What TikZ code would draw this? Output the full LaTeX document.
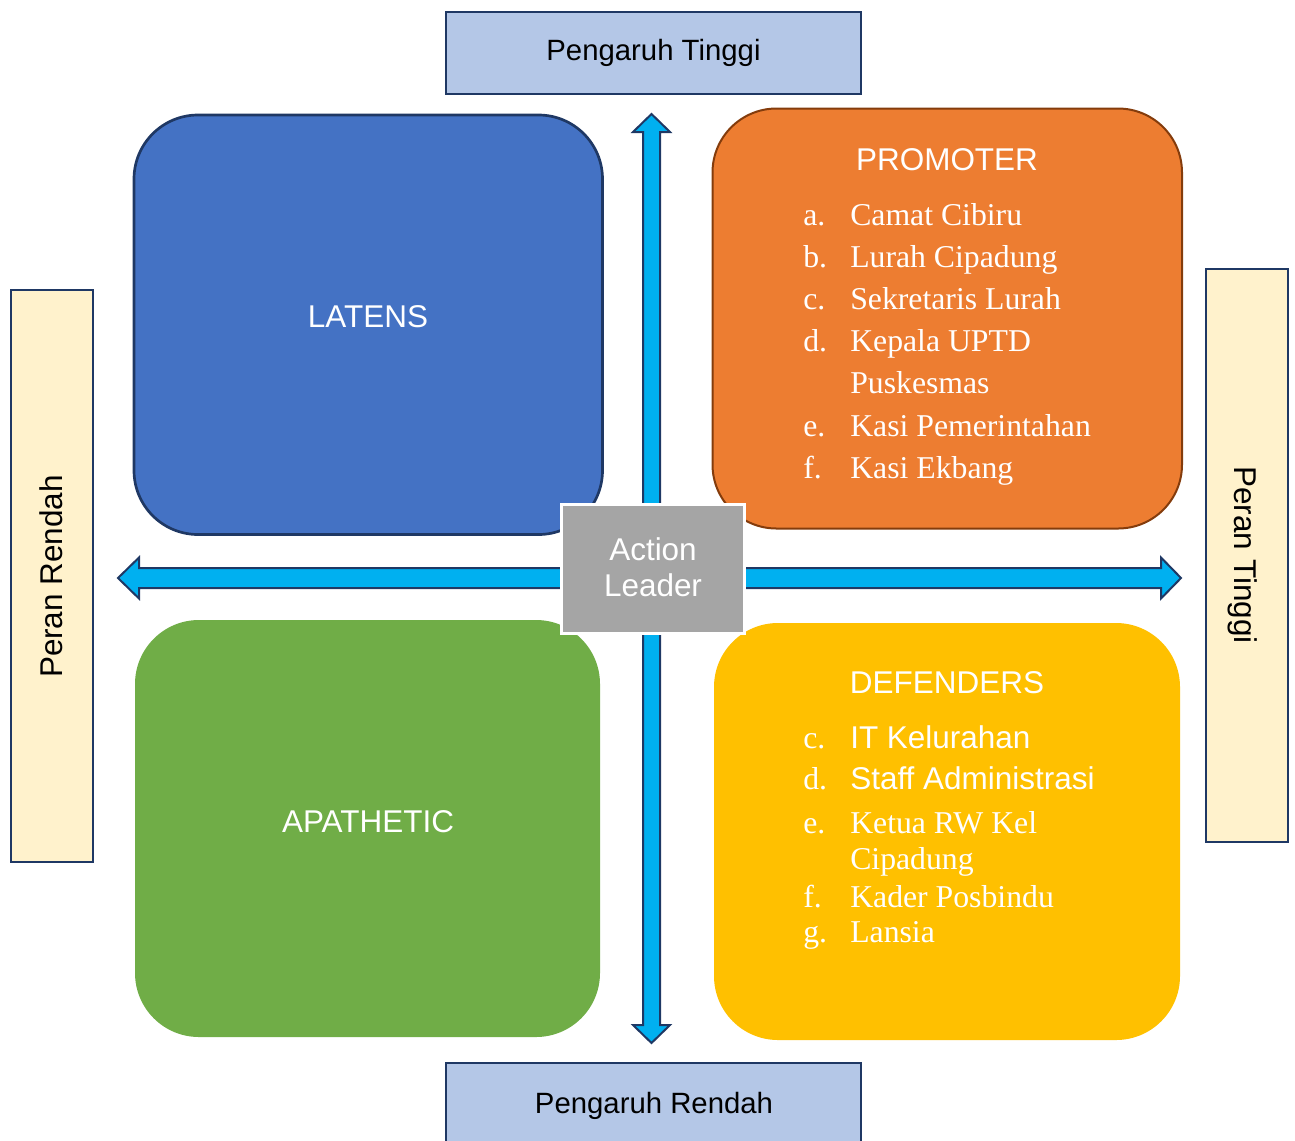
\documentclass[tikz,border=0pt]{standalone}
\usepackage{fontspec}
\setmainfont{Liberation Serif}
\setsansfont{Liberation Sans}
\definecolor{navy}{HTML}{1F3864}
\definecolor{hdrblue}{HTML}{B4C7E7}
\definecolor{cream}{HTML}{FFF2CC}
\definecolor{latblue}{HTML}{4472C4}
\definecolor{promorange}{HTML}{ED7D31}
\definecolor{promedge}{HTML}{843C0C}
\definecolor{apgreen}{HTML}{70AD47}
\definecolor{defyellow}{HTML}{FFC000}
\definecolor{arrowcyan}{HTML}{00B0F0}
\definecolor{actgray}{HTML}{A5A5A5}
\begin{document}
\begin{tikzpicture}[x=0.75pt,y=-0.75pt,
  axisbox/.style={line width=1.5pt, draw=navy},
  axislbl/.style={inner sep=0pt, anchor=center, text height=15.75pt, text depth=0pt, font=\sffamily\fontsize{22}{26}\selectfont, text=black},
  sidelbl/.style={inner sep=0pt, anchor=center, text height=16.9pt, text depth=0pt, font=\sffamily\fontsize{23.6}{27}\selectfont, text=black},
  title/.style={inner sep=0pt, anchor=base, text=white, font=\sffamily\fontsize{23.6}{27}\selectfont},
  itemlbl/.style={inner sep=0pt, anchor=base west, text=white, font=\fontsize{23.8}{27}\selectfont},
  itemtxt/.style={itemlbl},
  itemsans/.style={itemlbl, font=\sffamily\fontsize{23.6}{27}\selectfont},
  quad/.style={rounded corners=48pt},
  arrowshape/.style={fill=arrowcyan, draw=navy, line width=1.5pt, line join=miter}
]
\useasboundingbox (0,0) rectangle (1295,1140);

% axis label boxes
\path[axisbox, fill=hdrblue] (446,11.5) rectangle (860.5,94);
\node[axislbl] (ptinggi) at (653.5,50) {Pengaruh Tinggi};
\path[axisbox, fill=hdrblue] (446,1062.5) rectangle (860.5,1150);
\node[axislbl] (prendah) at (654,1103) {Pengaruh Rendah};
\path[axisbox, fill=cream] (10.5,289.5) rectangle (93,861.5);
\node[sidelbl, rotate=90] (perrendah) at (51,576.5) {Peran Rendah};
\path[axisbox, fill=cream] (1205.5,268.5) rectangle (1288,841.5);
\node[sidelbl, rotate=-90] (pertinggi) at (1246,555) {Peran Tinggi};

% arrows
\path[arrowshape] (651.5,114) -- (670,132) -- (660,132) -- (660,1025) -- (670,1025)
  -- (651.5,1043) -- (633,1025) -- (643,1025) -- (643,132) -- (633,132) -- cycle;
\path[arrowshape] (118,578) -- (139,557.5) -- (139,568) -- (1161,568) -- (1161,557.5)
  -- (1181,578) -- (1161,598.5) -- (1161,588) -- (139,588) -- (139,598.5) -- cycle;

% quadrants
\path[quad, fill=latblue, draw=navy, line width=2pt] (134,115) rectangle (602.5,534.5);
\node[title] (latens) at (368,327) {LATENS};

\path[quad, fill=promorange, draw=promedge, line width=1.5pt] (712.5,108.5) rectangle (1182,528.5);
\node[title] (promoter) at (947,170) {PROMOTER};
\node[itemlbl] (pa) at (803,225) {a.};
\node[itemtxt] (pat) at (850,225) {Camat Cibiru};
\node[itemlbl] (pb) at (803,267) {b.};
\node[itemtxt] (pbt) at (850,267) {Lurah Cipadung};
\node[itemlbl] (pc) at (803,309) {c.};
\node[itemtxt] (pct) at (850,309) {Sekretaris Lurah};
\node[itemlbl] (pd) at (803,351) {d.};
\node[itemtxt] (pdt) at (850,351) {Kepala UPTD};
\node[itemtxt] (pdt2) at (850,393) {Puskesmas};
\node[itemlbl] (pe) at (803,436) {e.};
\node[itemtxt] (pet) at (850,436) {Kasi Pemerintahan};
\node[itemlbl] (pf) at (803,478) {f.};
\node[itemtxt] (pft) at (850,478) {Kasi Ekbang};

\path[quad, fill=apgreen] (135,620) rectangle (600,1037);
\node[title] (apathetic) at (368,832) {APATHETIC};

\path[quad, fill=defyellow] (714,623) rectangle (1180,1040);
\node[title] (defenders) at (947,693) {DEFENDERS};
\node[itemlbl] (dc) at (803,748) {c.};
\node[itemsans] (dct) at (850,748) {IT Kelurahan};
\node[itemlbl] (dd) at (803,789) {d.};
\node[itemsans] (ddt) at (850,789) {Staff Administrasi};
\node[itemlbl] (de) at (803,833) {e.};
\node[itemtxt] (det) at (850,833) {Ketua RW Kel};
\node[itemtxt] (det2) at (850,869) {Cipadung};
\node[itemlbl] (df) at (803,907) {f.};
\node[itemtxt] (dft) at (850,907) {Kader Posbindu};
\node[itemlbl] (dg) at (803,942) {g.};
\node[itemtxt] (dgt) at (850,942) {Lansia};

% center
\path[fill=actgray, draw=white, line width=2.25pt] (561.5,504.5) rectangle (744.5,633.5);
\node[align=center, text=white, inner sep=0pt, font=\sffamily\fontsize{23.6}{27}\selectfont] (action) at (653,567.5) {Action\\Leader};
\end{tikzpicture}
\end{document}
